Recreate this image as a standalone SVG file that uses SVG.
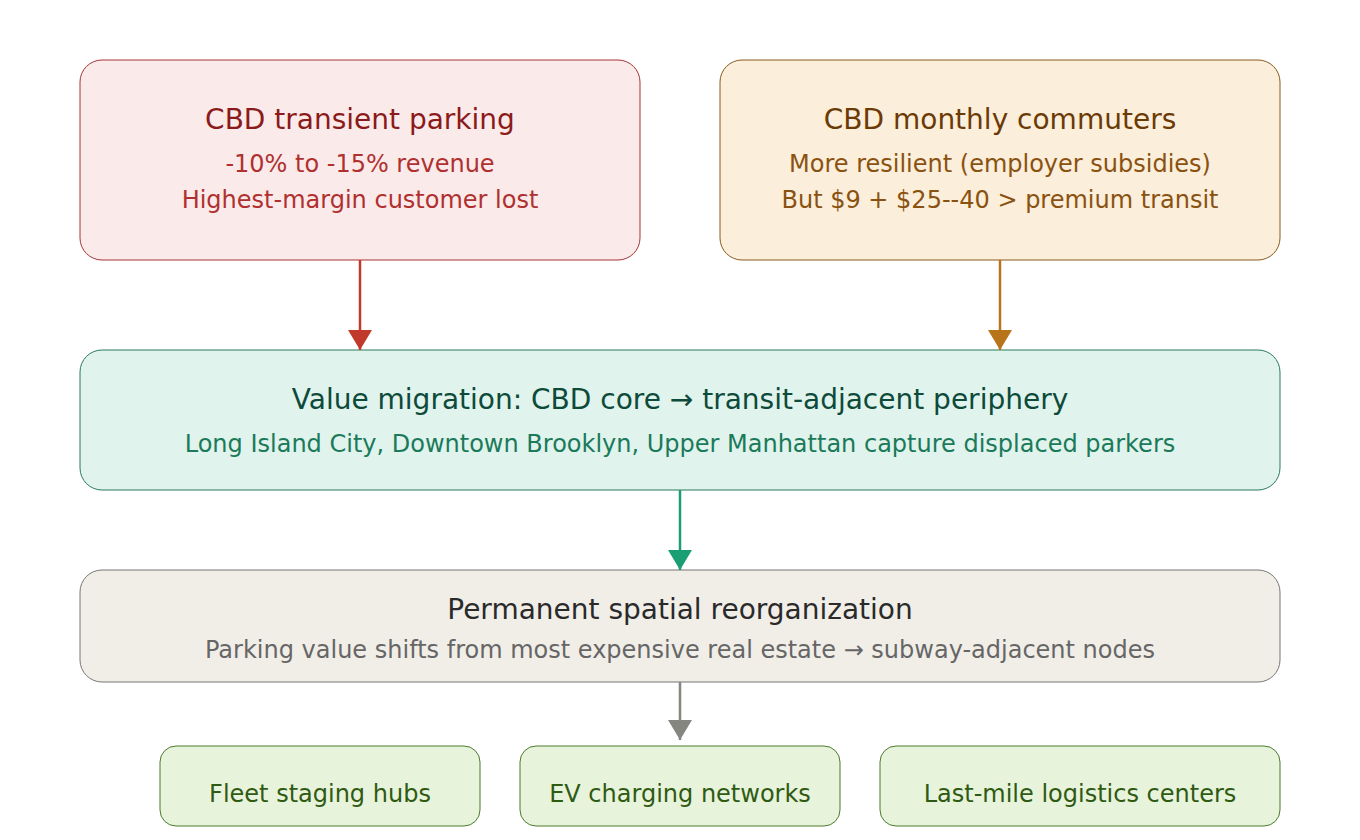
<svg xmlns="http://www.w3.org/2000/svg" width="1360" height="840" viewBox="0 0 1360 840">
<style>
text{font-family:"DejaVu Sans",Verdana,sans-serif;text-anchor:middle}
.t{font-size:28px}.s{font-size:24px}.l{font-size:24px;fill:#2f5a12}
</style>
<defs>
<marker id="mr" markerWidth="20" markerHeight="24" refX="20" refY="12" orient="auto" markerUnits="userSpaceOnUse"><path d="M0,0L20,12L0,24z" fill="#c0392b"/></marker>
<marker id="mo" markerWidth="20" markerHeight="24" refX="20" refY="12" orient="auto" markerUnits="userSpaceOnUse"><path d="M0,0L20,12L0,24z" fill="#b8741a"/></marker>
<marker id="mg" markerWidth="20" markerHeight="24" refX="20" refY="12" orient="auto" markerUnits="userSpaceOnUse"><path d="M0,0L20,12L0,24z" fill="#1a9e74"/></marker>
<marker id="mk" markerWidth="20" markerHeight="24" refX="20" refY="12" orient="auto" markerUnits="userSpaceOnUse"><path d="M0,0L20,12L0,24z" fill="#868680"/></marker>
</defs>
<rect width="1360" height="840" fill="#fff"/>
<g id="n1"><rect x="80" y="60" width="560" height="200" rx="22" fill="#fbeaea" stroke="#a83232"/>
<text class="t" x="360" y="129" fill="#8b1a1a">CBD transient parking</text>
<text class="s" x="360" y="172" fill="#b03030">-10% to -15% revenue</text>
<text class="s" x="360" y="208" fill="#b03030">Highest-margin customer lost</text></g>
<g id="n2"><rect x="720" y="60" width="560" height="200" rx="22" fill="#fbeedb" stroke="#8a5a1a"/>
<text class="t" x="1000" y="129" fill="#6b3a05">CBD monthly commuters</text>
<text class="s" x="1000" y="172" fill="#8a5210">More resilient (employer subsidies)</text>
<text class="s" x="1000" y="208" fill="#8a5210">But $9 + $25--40 &gt; premium transit</text></g>
<g id="n3"><rect x="80" y="350" width="1200" height="140" rx="22" fill="#e0f3ec" stroke="#2a7a5a"/>
<text class="t" x="680" y="409" fill="#0d4a3a">Value migration: CBD core → transit-adjacent periphery</text>
<text class="s" x="680" y="452" fill="#1a7a5a">Long Island City, Downtown Brooklyn, Upper Manhattan capture displaced parkers</text></g>
<g id="n4"><rect x="80" y="570" width="1200" height="112" rx="22" fill="#f1eee8" stroke="#777"/>
<text class="t" x="680" y="619" fill="#2a2a2a">Permanent spatial reorganization</text>
<text class="s" x="680" y="658" fill="#666">Parking value shifts from most expensive real estate → subway-adjacent nodes</text></g>
<g id="n5"><rect x="160" y="746" width="320" height="80" rx="16" fill="#e8f3dc" stroke="#4a7a2a"/><text class="l" x="320" y="802">Fleet staging hubs</text></g>
<g id="n6"><rect x="520" y="746" width="320" height="80" rx="16" fill="#e8f3dc" stroke="#4a7a2a"/><text class="l" x="680" y="802">EV charging networks</text></g>
<g id="n7"><rect x="880" y="746" width="400" height="80" rx="16" fill="#e8f3dc" stroke="#4a7a2a"/><text class="l" x="1080" y="802">Last-mile logistics centers</text></g>
<g id="connectors" stroke-width="2.5" fill="none">
<path d="M360,260V350" stroke="#c0392b" marker-end="url(#mr)"/>
<path d="M1000,260V350" stroke="#b8741a" marker-end="url(#mo)"/>
<path d="M680,490V570" stroke="#1a9e74" marker-end="url(#mg)"/>
<path d="M680,682V740" stroke="#868680" marker-end="url(#mk)"/>
</g>
</svg>
